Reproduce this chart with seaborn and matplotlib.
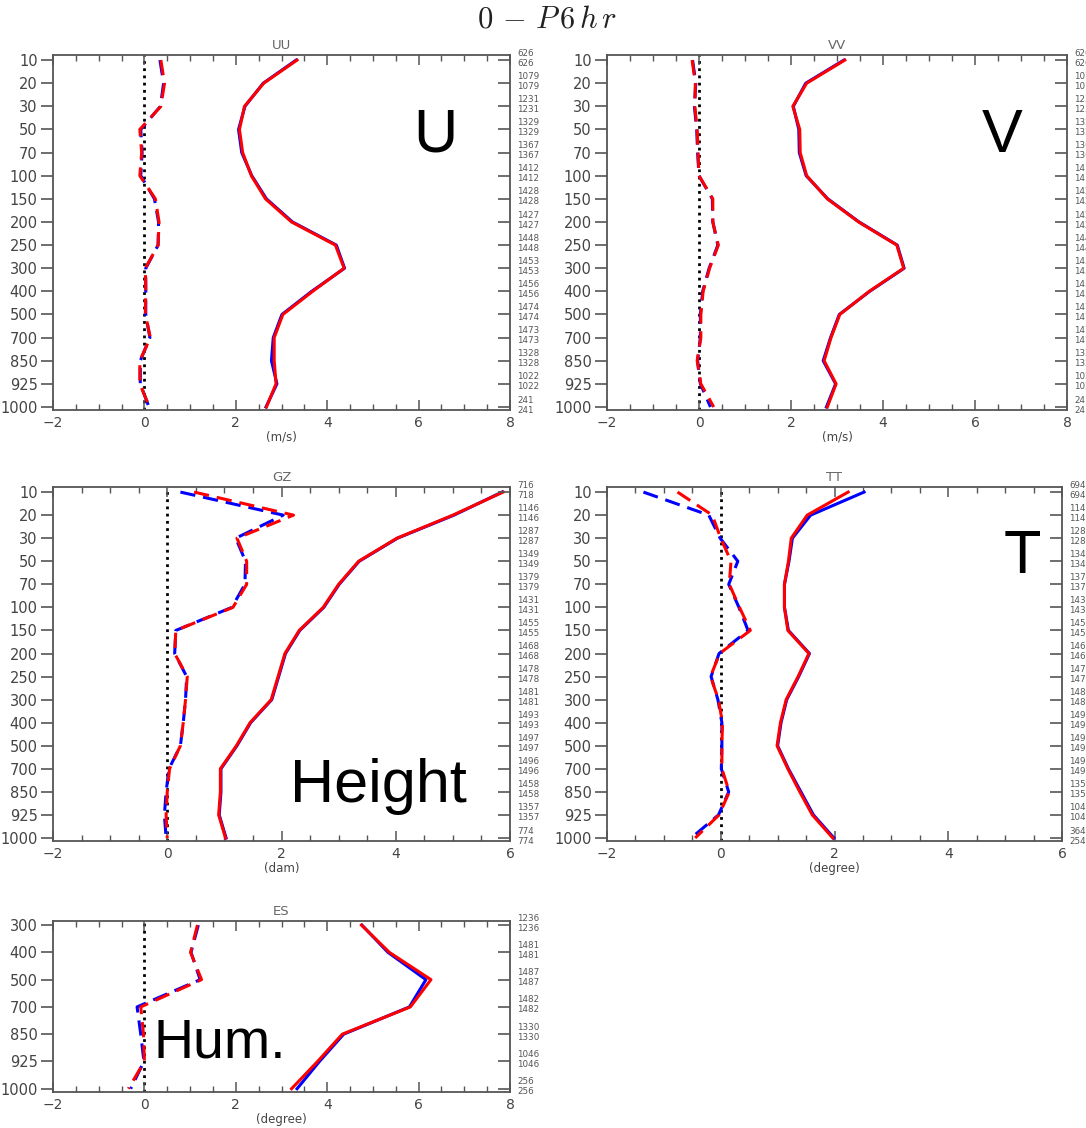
import numpy as np
import pandas as pd
import matplotlib
matplotlib.use("Agg")
import matplotlib.pyplot as plt
import seaborn as sns
from matplotlib.transforms import blended_transform_factory
from matplotlib.ticker import MultipleLocator

# ---------------- data ----------------
levels = [10, 20, 30, 50, 70, 100, 150, 200, 250, 300, 400, 500, 700, 850, 925, 1000]
levels_es = [300, 400, 500, 700, 850, 925, 1000]

uu_std_blue = [3.32, 2.60, 2.20, 2.06, 2.13, 2.35, 2.67, 3.24, 4.20, 4.38, 3.66, 3.01, 2.82, 2.78, 2.90, 2.66]
uu_std_red = [3.34, 2.61, 2.19, 2.08, 2.15, 2.34, 2.65, 3.22, 4.18, 4.37, 3.68, 3.03, 2.84, 2.84, 2.88, 2.67]
uu_bias_blue = [0.34, 0.42, 0.35, -0.08, -0.05, -0.08, 0.22, 0.31, 0.30, 0.03, 0.03, 0.03, 0.12, -0.09, -0.09, 0.10]
uu_bias_red = [0.36, 0.44, 0.36, -0.10, -0.06, -0.10, 0.24, 0.32, 0.30, 0.02, 0.03, 0.02, 0.13, -0.10, -0.10, 0.11]

vv_std_blue = [3.15, 2.32, 2.05, 2.17, 2.18, 2.33, 2.80, 3.48, 4.31, 4.46, 3.71, 3.05, 2.86, 2.70, 2.97, 2.77]
vv_std_red = [3.17, 2.34, 2.04, 2.19, 2.20, 2.34, 2.79, 3.47, 4.30, 4.45, 3.70, 3.06, 2.87, 2.72, 2.98, 2.79]
vv_bias_blue = [-0.14, -0.07, -0.10, -0.05, -0.03, 0.00, 0.29, 0.30, 0.41, 0.22, 0.08, 0.03, 0.03, -0.03, 0.03, 0.25]
vv_bias_red = [-0.15, -0.08, -0.09, -0.04, -0.02, 0.00, 0.30, 0.30, 0.42, 0.23, 0.09, 0.04, 0.04, -0.04, 0.04, 0.32]

gz_std_blue = [5.86, 5.02, 4.03, 3.36, 3.01, 2.74, 2.32, 2.07, 1.95, 1.83, 1.46, 1.22, 0.94, 0.94, 0.91, 1.03]
gz_std_red = [5.88, 5.00, 4.02, 3.35, 3.00, 2.73, 2.31, 2.06, 1.94, 1.82, 1.45, 1.21, 0.93, 0.93, 0.90, 1.02]
gz_bias_blue = [0.23, 2.03, 1.20, 1.37, 1.36, 1.13, 0.15, 0.13, 0.34, 0.32, 0.28, 0.23, 0.03, -0.02, -0.05, -0.02]
gz_bias_red = [0.47, 2.21, 1.22, 1.39, 1.39, 1.15, 0.15, 0.13, 0.35, 0.32, 0.28, 0.23, 0.04, 0.00, -0.02, 0.00]

tt_std_blue = [2.52, 1.58, 1.26, 1.20, 1.12, 1.12, 1.19, 1.56, 1.37, 1.16, 1.06, 1.00, 1.19, 1.41, 1.63, 1.99]
tt_std_red = [2.24, 1.52, 1.24, 1.19, 1.12, 1.12, 1.18, 1.55, 1.36, 1.15, 1.05, 0.99, 1.18, 1.39, 1.61, 1.97]
tt_bias_blue = [-1.36, -0.21, -0.01, 0.30, 0.14, 0.32, 0.48, -0.03, -0.17, -0.05, 0.02, 0.02, 0.01, 0.14, -0.04, -0.52]
tt_bias_red = [-0.76, -0.15, 0.00, 0.18, 0.15, 0.33, 0.52, -0.02, -0.18, -0.04, 0.03, 0.02, 0.02, 0.15, -0.03, -0.45]

es_std_blue = [4.76, 5.33, 6.16, 5.80, 4.36, 3.83, 3.34]
es_std_red = [4.75, 5.36, 6.27, 5.82, 4.33, 3.79, 3.22]
es_bias_blue = [1.18, 1.02, 1.22, -0.16, -0.08, -0.01, -0.30]
es_bias_red = [1.16, 1.01, 1.25, -0.08, -0.02, 0.00, -0.35]

uu_count_a = [626, 1079, 1231, 1329, 1367, 1412, 1428, 1427, 1448, 1453, 1456, 1474, 1473, 1328, 1022, 241]
uu_count_b = [626, 1079, 1231, 1329, 1367, 1412, 1428, 1427, 1448, 1453, 1456, 1474, 1473, 1328, 1022, 241]
vv_count_a = [626, 1079, 1231, 1329, 1367, 1412, 1428, 1427, 1448, 1453, 1456, 1474, 1473, 1328, 1022, 241]
vv_count_b = [626, 1079, 1231, 1329, 1367, 1412, 1428, 1427, 1448, 1453, 1456, 1474, 1473, 1328, 1022, 241]
gz_count_a = [716, 1146, 1287, 1349, 1379, 1431, 1455, 1468, 1478, 1481, 1493, 1497, 1496, 1458, 1357, 774]
gz_count_b = [718, 1146, 1287, 1349, 1379, 1431, 1455, 1468, 1478, 1481, 1493, 1497, 1496, 1458, 1357, 774]
tt_count_a = [694, 1146, 1287, 1349, 1379, 1431, 1455, 1468, 1478, 1481, 1493, 1497, 1496, 1358, 1047, 364]
tt_count_b = [694, 1146, 1287, 1349, 1379, 1431, 1455, 1468, 1478, 1481, 1493, 1497, 1496, 1358, 1047, 254]
es_count_a = [1236, 1481, 1487, 1482, 1330, 1046, 256]
es_count_b = [1236, 1481, 1487, 1482, 1330, 1046, 256]

# ---------------- figure ----------------
plt.rcParams['mathtext.fontset'] = 'cm'
plt.rcParams['font.family'] = ['DejaVu Sans']
W, H = 1086, 1128
fig = plt.figure(figsize=(W / 100, H / 100), dpi=100)

SPINE = '#555555'
TXT = '#444444'
BLUE = '#0000ff'
RED = '#ff0000'
DASH = (0, (5, 2.6))


def panel(box, title, xlabel, levs, xmax, std_b, std_r, bias_b, bias_r, n_a, n_b, top_m, bot_m):
    l, r, t, b = box
    ax = fig.add_axes([l / W, 1 - b / H, (r - l) / W, (b - t) / H])
    idx = np.arange(len(levs))
    df = pd.DataFrame({
        'lev': np.tile(idx, 4),
        'val': np.concatenate([std_b, bias_b, std_r, bias_r]),
        'line': np.repeat(['std_b', 'bias_b', 'std_r', 'bias_r'], len(levs)),
    })
    ax.axvline(0, color='black', ls=(0, (1, 1.6)), lw=2.0, zorder=1)
    styles = {'std_b': (BLUE, '-'), 'bias_b': (BLUE, DASH),
              'std_r': (RED, '-'), 'bias_r': (RED, DASH)}
    for key in ['std_b', 'bias_b', 'std_r', 'bias_r']:
        col, ls = styles[key]
        sns.lineplot(data=df[df['line'] == key], x='val', y='lev', sort=False,
                     estimator=None, color=col, linestyle=ls, lw=2.2, ax=ax, zorder=3)
    ax.set_xlim(-2, xmax)
    ax.set_ylim(len(levs) - 1 + bot_m, -top_m)
    ax.set_xticks(np.arange(-2, xmax + 1, 2))
    ax.xaxis.set_minor_locator(MultipleLocator(0.5))
    ax.set_yticks(idx)
    ax.set_yticklabels([str(v) for v in levs])
    ax.set_xlabel(xlabel, fontsize=8.5, color=TXT, labelpad=1)
    ax.set_ylabel('')
    ax.set_title(title, fontsize=9.5, color='#666666', pad=4)
    for s in ax.spines.values():
        s.set_color(SPINE)
        s.set_linewidth(1.3)
    ax2 = ax.twinx()
    ax2.set_ylim(ax.get_ylim())
    ax2.set_yticks(idx)
    ax2.tick_params(axis='y', direction='in', length=9, width=1.2, color=SPINE,
                    labelright=False)
    for s in ax2.spines.values():
        s.set_visible(False)
    ax.tick_params(axis='x', which='major', direction='in', top=True, bottom=True,
                   length=7, width=1.1, color=SPINE, labelsize=10, labelcolor=TXT, pad=4)
    ax.tick_params(axis='x', which='minor', direction='in', top=True, bottom=True,
                   length=4, width=1.0, color=SPINE)
    ax.tick_params(axis='y', which='major', direction='out', left=True, right=False,
                   length=9, width=1.2, color=SPINE, labelsize=10.5, labelcolor=TXT, pad=2)
    trans = blended_transform_factory(ax.transAxes, ax.transData)
    for i in idx:
        ax.annotate(str(n_a[i]), xy=(1, i), xycoords=trans, xytext=(5, 5),
                    textcoords='offset points', fontsize=6.3, color='#555555',
                    va='center', ha='left', annotation_clip=False)
        ax.annotate(str(n_b[i]), xy=(1, i), xycoords=trans, xytext=(5, -2.2),
                    textcoords='offset points', fontsize=6.3, color='#555555',
                    va='center', ha='left', annotation_clip=False)
    return ax


panel((53, 510, 55, 410), 'UU', '(m/s)', levels, 8,
      uu_std_blue, uu_std_red, uu_bias_blue, uu_bias_red, uu_count_a, uu_count_b, 0.22, 0.13)
panel((607, 1067, 55, 410), 'VV', '(m/s)', levels, 8,
      vv_std_blue, vv_std_red, vv_bias_blue, vv_bias_red, vv_count_a, vv_count_b, 0.22, 0.13)
panel((53, 510, 487, 841), 'GZ', '(dam)', levels, 6,
      gz_std_blue, gz_std_red, gz_bias_blue, gz_bias_red, gz_count_a, gz_count_b, 0.22, 0.13)
panel((607, 1062, 487, 841), 'TT', '(degree)', levels, 6,
      tt_std_blue, tt_std_red, tt_bias_blue, tt_bias_red, tt_count_a, tt_count_b, 0.22, 0.13)
panel((53, 510, 921, 1092), 'ES', '(degree)', levels_es, 8,
      es_std_blue, es_std_red, es_bias_blue, es_bias_red, es_count_a, es_count_b, 0.15, 0.12)

fig.text(547 / W, 1 - 28 / H, r'$0\,-\,P\,6\,h\,r$', fontsize=22, ha='center',
         va='baseline', color='#222222')

big = dict(fontsize=44, family=['Liberation Sans', 'DejaVu Sans'], color='black',
           ha='center', va='baseline')
fig.text(435 / W, 1 - 152 / H, 'U', **big)
fig.text(1002 / W, 1 - 152 / H, 'V', **big)
fig.text(378 / W, 1 - 802 / H, 'Height', **big)
fig.text(1022 / W, 1 - 573 / H, 'T', **big)
hum = dict(big)
hum['fontsize'] = 40
fig.text(220 / W, 1 - 1058 / H, 'Hum.', **hum)

fig.savefig('out.png', dpi=100)
